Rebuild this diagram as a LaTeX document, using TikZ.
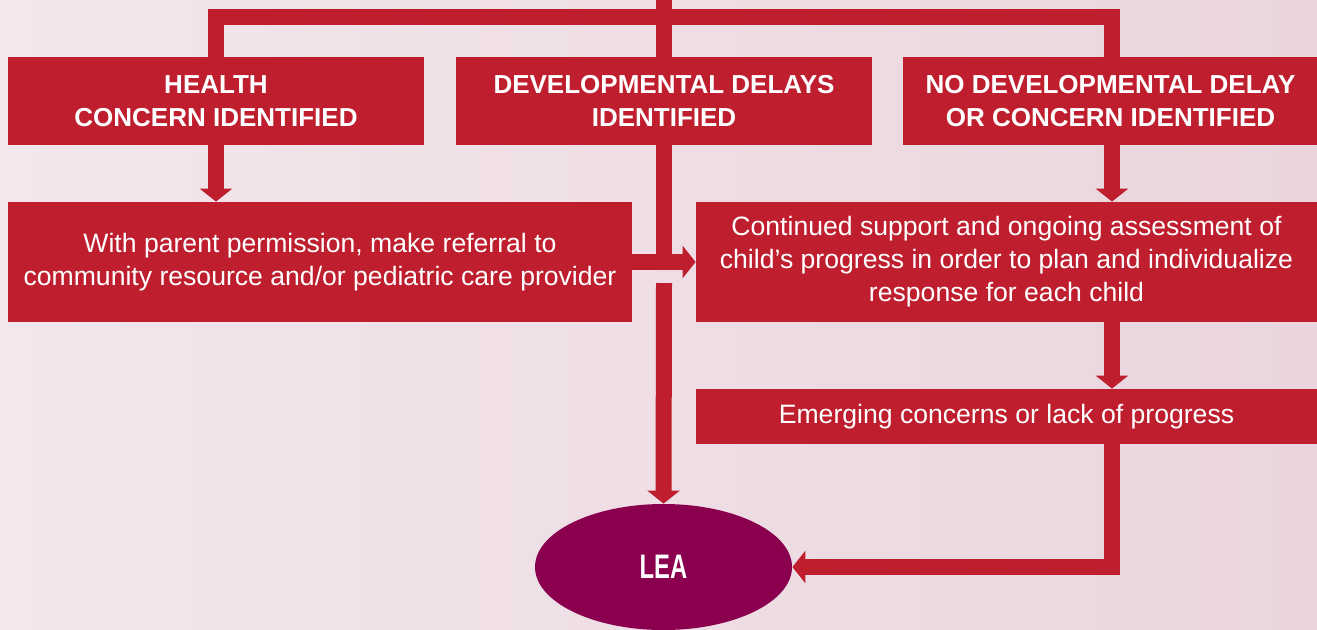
\documentclass[tikz,border=0pt]{standalone}
\usepackage{graphicx}
\usepackage{fontspec}
\setmainfont{Liberation Sans}
\usetikzlibrary{arrows.meta,shapes.geometric}
\definecolor{flowred}{HTML}{BE1E2D}
\definecolor{leapurple}{HTML}{8A004F}
\definecolor{bgpinkA}{HTML}{F3E6EC}
\definecolor{bgpinkB}{HTML}{EAD5DD}

\begin{document}
\begin{tikzpicture}[x=0.5pt,y=-0.5pt,
    box/.style={fill=flowred,text=white,inner sep=0pt,align=center,
        font=\fontsize{13.3}{16.5}\selectfont},
    headbox/.style={box,font=\bfseries\fontsize{13}{16.5}\selectfont,
        minimum width=208pt,minimum height=44pt},
    link/.style={draw=flowred,line width=8pt},
    arrow/.style={link,-{Triangle[width=16pt,length=6.5pt]}}]
        \useasboundingbox (0,0) rectangle (1317,629);
        \clip (0,0) rectangle (1317,629);
        \shade[left color=bgpinkA,right color=bgpinkB] (0,0) rectangle (1317,629);

        \node[headbox] (health) at(216,101){HEALTH\\CONCERN IDENTIFIED};
        \node[headbox] (delays) at(664,101){DEVELOPMENTAL DELAYS\\IDENTIFIED};
        \node[headbox] (nodelay) at(1110.5,101){NO DEVELOPMENTAL DELAY\\OR CONCERN IDENTIFIED};

        \node[box,minimum width=312pt,minimum height=60pt] (referral) at(320,262)
            {With parent permission, make referral to\\community resource and/or pediatric care provider};
        \node[box,minimum width=310.5pt,minimum height=60pt] (support) at(1006.5,262)
            {Continued support and ongoing assessment of\\child's progress in order to plan and individualize\\response for each child};
        \node[box,minimum width=310.5pt,minimum height=27.5pt] (emerging) at(1006.5,416.5)
            {Emerging concerns or lack of progress};

        \node[ellipse,fill=leapurple,text=white,inner sep=0pt,
            minimum width=128.5pt,minimum height=63pt,
            font=\bfseries\fontsize{17}{17}\selectfont] (lea) at(663.5,567){\scalebox{0.7}[1]{LEA}};

        \coordinate (top) at (664,0);
        \coordinate (rcol) at (1112,0);
        \coordinate (bridge) at (664,283);

        \draw[link] (health.north) |- (rcol |- 0,17) -- (rcol |- nodelay.north);
        \draw[link] (top) -- (delays.north);

        \draw[arrow] (health.south) -- (health.south |- referral.north);
        \draw[arrow] (rcol |- nodelay.south) -- (rcol |- support.north);
        \draw[arrow] (rcol |- support.south) -- (rcol |- emerging.north);
        \draw[arrow] (rcol |- emerging.south) |- (lea.east);

        \draw[link] (delays.south) -- (delays.south |- referral.east);
        \draw[arrow] (referral.east) -- (support.west);
        \draw[arrow] (bridge) -- (lea.north);
    \end{tikzpicture}
\end{document}
